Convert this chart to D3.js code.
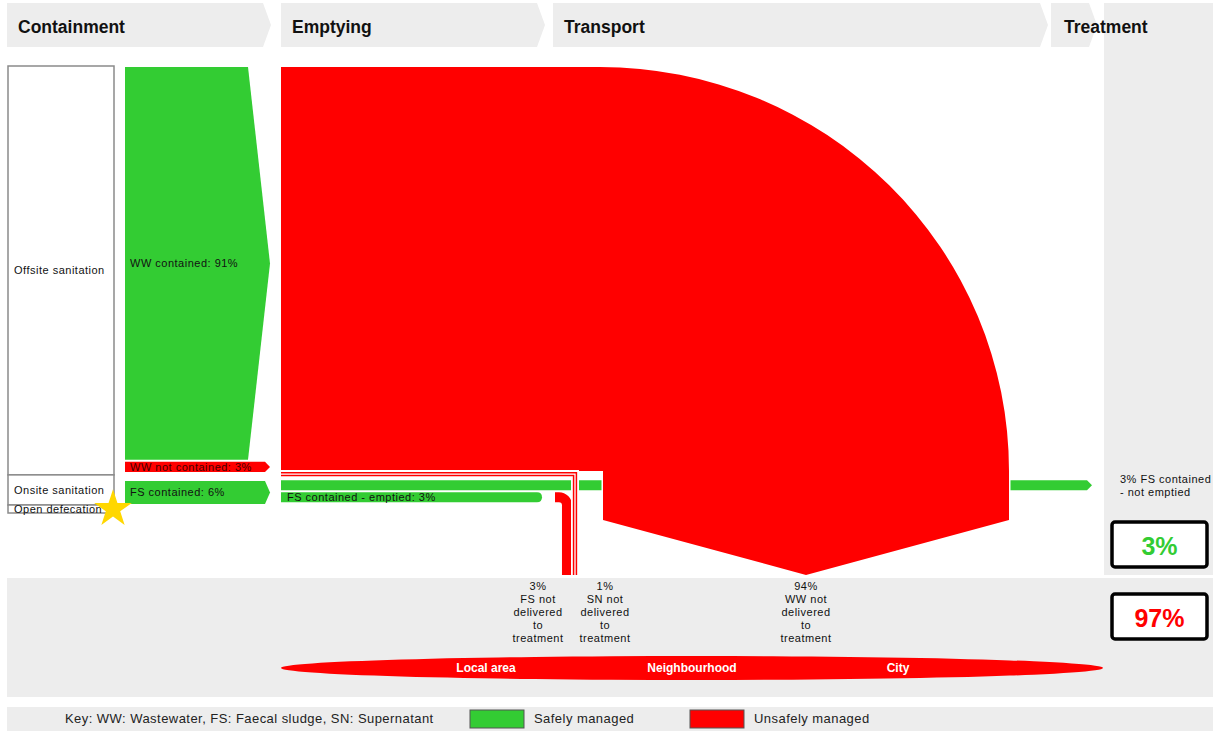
<!DOCTYPE html>
<html>
<head>
<meta charset="utf-8">
<script src="https://cdn.jsdelivr.net/npm/d3@7"></script>
<style>
  body { margin: 0; background: #fff; }
  svg { display: block; font-family: "Liberation Sans", Arial, sans-serif; }
  .small { font-size: 11px; letter-spacing: 0.5px; fill: #111; }
</style>
</head>
<body>
<div id="sfd"></div>
<script>
// chart data (percent of population)
var stages = ["Containment", "Emptying", "Transport", "Treatment"];
var systems = ["Offsite sanitation", "Onsite sanitation", "Open defecation"];
var systemShares = [94, 6, 0];
var containLabels = ["WW contained: 91%", "WW not contained: 3%", "FS contained: 6%"];
var containValues = [91, 3, 6];
var containSafe = [true, false, true];
var wwNotDelivered = 94;
var snNotDelivered = 1;
var fsNotEmptied = 3;
var fsEmptied = 3;
var fsNotDelivered = 3;
var lossValues = [3, 1, 94];
var lossLabels = ["FS not\ndelivered\nto\ntreatment", "SN not\ndelivered\nto\ntreatment", "WW not\ndelivered\nto\ntreatment"];
var areaLabels = ["Local area", "Neighbourhood", "City"];
var outcomeValues = [3, 97];
var keyText = "Key: WW: Wastewater, FS: Faecal sludge, SN: Supernatant";
var keyLabels = ["Safely managed", "Unsafely managed"];

var GREEN = '#33cc33', RED = '#ff0000', GREY = '#ededed'

var width = 1213, height = 731
var svg = d3.select('#sfd').append('svg')
    .attr('width', width).attr('height', height)

// percent -> pixel thickness
var yPct = d3.scaleLinear().domain([0, 100]).range([0, 435])
var top0 = 67

// header chevrons
var headerX = [[7, 263], [281, 537], [553, 1040], [1051, 1089]]
var tip = 8, hTop = 3, hBot = 47

svg.append('rect').attr('x', 1104).attr('y', hTop).attr('width', 109).attr('height', 572).style('fill', GREY)
svg.append('rect').attr('x', 7).attr('y', 578).attr('width', 1206).attr('height', 119).style('fill', GREY)
svg.append('rect').attr('x', 7).attr('y', 707).attr('width', 1206).attr('height', 24).style('fill', GREY)

var heads = svg.append('g').selectAll('g')
    .data(stages)
    .enter().append('g')
heads.append('path')
    .attr('d', function (d, i) {
        var x = headerX[i]
        return `M${x[0]},${hTop}H${x[1]}L${x[1] + tip},${(hTop + hBot) / 2}L${x[1]},${hBot}H${x[0]}Z`
    })
    .style('fill', GREY)
heads.append('text')
    .attr('x', function (d, i) { return headerX[i][0] + (i == 3 ? 13 : 11) })
    .attr('y', 33)
    .style('font-size', '17.5px').style('font-weight', 'bold').style('fill', '#111')
    .text(function (d) { return d })

// system boxes on the left
var boxY = [top0 - 1]
var boxH = systemShares.map(function (v) { return Math.max(yPct(v), 8) })
boxH[1] += 4
for (var i = 1; i < boxH.length; i++) boxY.push(boxY[i - 1] + boxH[i - 1])
var sys = svg.append('g').selectAll('g').data(systems).enter().append('g')
sys.append('rect')
    .attr('x', 8).attr('width', 106)
    .attr('y', function (d, i) { return boxY[i] })
    .attr('height', function (d, i) { return boxH[i] })
    .style('fill', '#fff').style('stroke', '#8a8a8a').style('stroke-width', 1.5)
sys.append('text')
    .attr('class', 'small')
    .attr('x', 14)
    .attr('y', function (d, i) { return i == 2 ? boxY[i] + 8 : boxY[i] + boxH[i] / 2 + 4 })
    .text(function (d) { return d })

// containment arrows
var cx0 = 125, cx1 = 270, gap = 3
var cy = [top0]
containValues.forEach(function (v, i) { if (i > 0) cy.push(cy[i - 1] + yPct(containValues[i - 1]) + (i == 2 ? 6 : -1)) })
var cont = svg.append('g').selectAll('g').data(containValues).enter().append('g')
cont.append('path')
    .attr('d', function (d, i) {
        var y0 = cy[i], y1 = cy[i] + yPct(d) - gap
        var back = i == 0 ? 22 : 5
        return `M${cx0},${y0}H${cx1 - back}L${cx1},${(y0 + y1) / 2}L${cx1 - back},${y1}H${cx0}Z`
    })
    .style('fill', function (d, i) { return containSafe[i] ? GREEN : RED })
cont.append('text')
    .attr('class', 'small')
    .attr('x', cx0 + 5)
    .attr('y', function (d, i) { return cy[i] + (yPct(d) - gap) / 2 + 4 })
    .style('fill', function (d, i) { return containSafe[i] ? '#111' : '#400' })
    .text(function (d, i) { return containLabels[i] })

// emptying / transport flows
var ex0 = 281
var wwBottom = top0 + yPct(wwNotDelivered) - 5
var yNotEmptied = top0 + yPct(wwNotDelivered) + yPct(snNotDelivered)
var yEmptied = yNotEmptied + yPct(fsNotEmptied) - 1

// FS contained - not emptied (runs to treatment)
var neH = yPct(fsNotEmptied) - gap
svg.append('path')
    .attr('d', `M${ex0},${yNotEmptied}H1087L1092,${yNotEmptied + neH / 2}L1087,${yNotEmptied + neH}H${ex0}Z`)
    .style('fill', GREEN)

// FS contained - emptied
var emH = yPct(fsEmptied) - gap
svg.append('path')
    .attr('d', `M${ex0},${yEmptied}H537Q542,${yEmptied} 542,${yEmptied + emH / 2}Q542,${yEmptied + emH} 537,${yEmptied + emH}H${ex0}Z`)
    .style('fill', GREEN)
svg.append('text').attr('class', 'small').attr('x', ex0 + 6).attr('y', yEmptied + emH / 2 + 4)
    .text('FS contained - emptied: ' + fsEmptied + '%')

// FS not delivered to treatment
var fsW = yPct(fsNotDelivered) - gap
svg.append('path')
    .attr('d', `M555,${yEmptied + fsW / 2}H559A8,8 0 0 1 567,${yEmptied + fsW / 2 + 8}V575`)
    .style('fill', 'none').style('stroke', RED).style('stroke-width', fsW)

// big WW flow not delivered to treatment
var bandTop = 575, arrowY = 520, arcX = 600, rightX = 1009, leftX = 603
var tipX = (leftX + rightX) / 2
svg.append('path')
    .attr('d', `M${ex0},${top0}H${arcX}A${rightX - arcX},${wwBottom - top0} 0 0 1 ${rightX},${wwBottom}` +
        `V${arrowY}L${tipX},${bandTop}L${leftX},${arrowY}V${wwBottom}H${ex0}Z`)
    .style('fill', RED).style('stroke', '#fff').style('stroke-width', 3)
    .style('paint-order', 'stroke')

// supernatant line
var snY = wwBottom + yPct(snNotDelivered) / 2 + 1
var snPath = `M${ex0},${snY}H575V${bandTop}`
svg.append('path').attr('d', snPath).style('fill', 'none').style('stroke', '#fff').style('stroke-width', 8)
svg.append('path').attr('d', snPath).style('fill', 'none').style('stroke', RED).style('stroke-width', yPct(snNotDelivered))
svg.append('path').attr('d', snPath).style('fill', 'none').style('stroke', '#fff').style('stroke-width', 1.3)
// keep ww shape clean at left edge
svg.append('rect').attr('x', ex0 - 3).attr('y', top0 - 3).attr('width', 2).attr('height', 420).style('fill', '#fff')

// star marker
svg.append('path')
    .attr('d', d3.symbol(d3.symbolStar).size(440)())
    .attr('transform', 'translate(113,509)')
    .style('fill', '#ffd700')

// loss labels
var lossX = [538, 605, 806]
var loss = svg.append('g').selectAll('text').data(lossValues).enter().append('text')
    .attr('class', 'small')
    .attr('x', function (d, i) { return lossX[i] })
    .attr('y', 590)
    .attr('text-anchor', 'middle')
loss.each(function (d, i) {
    var t = d3.select(this)
    var lines = [d + '%'].concat(lossLabels[i].split('\n'))
    lines.forEach(function (l, j) {
        t.append('tspan').attr('x', lossX[i]).attr('dy', j == 0 ? 0 : 13).text(l)
    })
})

// spatial extent
var ellX = d3.scalePoint().domain(areaLabels).range([486, 898])
svg.append('ellipse').attr('cx', 692).attr('cy', 668).attr('rx', 411).attr('ry', 12).style('fill', RED)
svg.append('g').selectAll('text').data(areaLabels).enter().append('text')
    .attr('x', function (d) { return ellX(d) })
    .attr('y', 672)
    .attr('text-anchor', 'middle')
    .style('font-size', '12px').style('font-weight', 'bold').style('fill', '#fff')
    .text(function (d) { return d })

// treatment note and outcome boxes
var note = svg.append('text').attr('class', 'small').attr('x', 1120).attr('y', 483)
note.append('tspan').attr('x', 1120).text(fsNotEmptied + '% FS contained')
note.append('tspan').attr('x', 1120).attr('dy', 13).text('- not emptied')

var outY = [522, 594]
var outs = svg.append('g').selectAll('g').data(outcomeValues).enter().append('g')
outs.append('rect')
    .attr('x', 1112).attr('width', 95).attr('height', 45)
    .attr('y', function (d, i) { return outY[i] }).attr('rx', 3)
    .style('fill', '#fff').style('stroke', '#000').style('stroke-width', 3.5)
outs.append('text')
    .attr('x', 1159.5)
    .attr('y', function (d, i) { return outY[i] + 33 })
    .attr('text-anchor', 'middle')
    .style('font-size', '25px').style('font-weight', 'bold')
    .style('fill', function (d, i) { return i == 0 ? GREEN : RED })
    .text(function (d) { return d + '%' })

// key
svg.append('text').attr('x', 65).attr('y', 723)
    .style('font-size', '13px').style('letter-spacing', '0.45px').style('fill', '#222').text(keyText)
var keyX = [470, 690]
var keys = svg.append('g').selectAll('g').data(keyLabels).enter().append('g')
keys.append('rect')
    .attr('x', function (d, i) { return keyX[i] }).attr('y', 710).attr('width', 54).attr('height', 18)
    .style('fill', function (d, i) { return i == 0 ? GREEN : RED })
    .style('stroke', '#555').style('stroke-width', 1)
keys.append('text')
    .attr('x', function (d, i) { return keyX[i] + 64 }).attr('y', 723)
    .style('font-size', '13px').style('letter-spacing', '0.45px').style('fill', '#222')
    .text(function (d) { return d })
</script>
</body>
</html>
